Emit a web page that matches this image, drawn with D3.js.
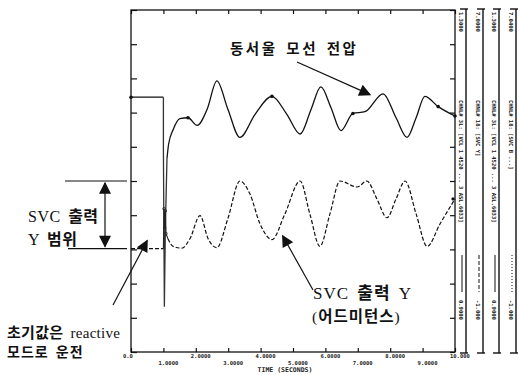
<!DOCTYPE html>
<html>
<head>
<meta charset="utf-8">
<script src="https://cdnjs.cloudflare.com/ajax/libs/d3/7.8.5/d3.min.js"></script>
<style>
  body { margin: 0; background: #fff; }
  svg { display: block; }
  .ann { font-family: "Liberation Serif", "Noto Sans CJK KR", serif; fill: #111; }
  .ann tspan.ko { font-family: "Noto Sans CJK KR", sans-serif; font-weight: 600; }
  .mono { font-family: "DejaVu Sans Mono", monospace; font-weight: bold; fill: #222; }
</style>
</head>
<body>
<div id="plot"></div>
<script>
// Define SVG area dimensions
var svgWidth = 519;
var svgHeight = 375;

var margin = { top: 10, right: 64, bottom: 23, left: 131 };
var chartWidth = svgWidth - margin.left - margin.right;
var chartHeight = svgHeight - margin.top - margin.bottom;

// ---- data ----
// pre-fault (0 - 1 s)
var preTime = [0, 1.0];
var preVolt = [1.198, 1.198];
var preSvc = [1.42, 1.42];

// fault spike at t = 1 s
var faultTime = [1.0, 1.0, 1.03, 1.06, 1.11];
var faultVolt = [1.198, 1.137, 0.953, 1.044, 1.126];
var svcFaultTime = [1.0, 1.02, 1.04, 1.06, 1.08, 1.14];
var svcFaultValue = [1.42, 2.35, 1.90, 2.30, 1.77, 1.65];

// bus voltage (동서울 모선 전압), p.u.
var voltTime = [1.11, 1.16, 1.30, 1.51, 1.76, 2.04, 2.35, 2.65, 2.99, 3.36, 3.83, 4.35, 4.81, 5.22, 5.56, 5.86, 6.17, 6.48, 6.85, 7.22, 7.78, 8.18, 8.52, 8.80, 9.07, 9.48, 10.0];
var voltValue = [1.126, 1.143, 1.160, 1.173, 1.174, 1.165, 1.184, 1.217, 1.184, 1.151, 1.178, 1.199, 1.178, 1.155, 1.184, 1.210, 1.186, 1.159, 1.179, 1.181, 1.202, 1.174, 1.151, 1.174, 1.199, 1.187, 1.176];
var voltMarkTime = [0, 1.76, 4.35, 6.85, 9.48, 10.0];
var voltMarkValue = [1.198, 1.174, 1.199, 1.179, 1.187, 1.176];

// SVC output admittance Y
var svcTime = [1.14, 1.30, 1.57, 1.82, 2.13, 2.38, 2.65, 2.99, 3.36, 3.67, 3.98, 4.35, 4.75, 5.22, 5.52, 5.83, 6.14, 6.45, 6.98, 7.28, 7.59, 7.90, 8.18, 8.46, 8.80, 9.14, 9.54, 10.0];
var svcValue = [1.65, 1.47, 1.43, 1.65, 2.19, 1.65, 1.44, 2.12, 3.0, 2.70, 2.0, 1.63, 2.23, 3.0, 2.23, 1.47, 2.23, 3.0, 2.86, 3.0, 2.58, 2.14, 2.58, 3.0, 2.23, 1.47, 2.0, 2.58];
var svcMax = 3.0;
var svcMin = 1.42;

// axis labels
var xTicks = [0, 1, 2, 3, 4, 5, 6, 7, 8, 9, 10];
var xTickLabels = ["0.0", "1.0000", "2.0000", "3.0000", "4.0000", "5.0000", "6.0000", "7.0000", "8.0000", "9.0000", "10.000"];
var yVoltTicks = [0.9, 0.94, 0.98, 1.02, 1.06, 1.10, 1.14, 1.18, 1.22, 1.26, 1.30];

// channel strips on the right
var stripTop = ["1.3000", "7.0000", "1.3000", "7.0400"];
var stripBottom = ["0.9000", "-1.000", "0.9000", "-1.000"];
var stripLegend = ["CHNL# 3L: [VCL 1 4520 ...  3 ASL.6033]", "CHNL# 18: [SVC Y]", "CHNL# 3L: [VCL 1 4520 ...  3 ASL.6033]", "CHNL# 18: [SVC B ...]"];
var stripDash = ["none", "4,2", "none", "1,2"];

var svg = d3.select("#plot")
  .append("svg")
  .attr("width", svgWidth)
  .attr("height", svgHeight);

var chartGroup = svg.append("g")
  .attr("transform", `translate(${margin.left}, ${margin.top})`);

// scales
var xScale = d3.scaleLinear().domain([0, 10]).range([0, chartWidth]);
var yVolt = d3.scaleLinear().domain([0.9, 1.3]).range([chartHeight, 0]);
var ySvc = d3.scaleLinear().domain([-1.0, 7.0]).range([chartHeight, 0]);

// frame
chartGroup.append("rect")
  .attr("width", chartWidth)
  .attr("height", chartHeight)
  .attr("fill", "none")
  .attr("stroke", "#111")
  .attr("stroke-width", 1.3);

// inward ticks on all four sides
function cleanAxis(g) {
  g.select(".domain").remove();
  g.selectAll("line").attr("stroke", "#111").attr("stroke-width", 1.2);
}
chartGroup.append("g")
  .call(d3.axisRight(yVolt).tickValues(yVoltTicks).tickSize(6).tickFormat(""))
  .call(cleanAxis);
chartGroup.append("g")
  .attr("transform", `translate(${chartWidth}, 0)`)
  .call(d3.axisLeft(yVolt).tickValues(yVoltTicks).tickSize(5).tickFormat(""))
  .call(cleanAxis);
chartGroup.append("g")
  .call(d3.axisBottom(xScale).tickValues(xTicks).tickSize(4).tickFormat(""))
  .call(cleanAxis);
chartGroup.append("g")
  .attr("transform", `translate(0, ${chartHeight})`)
  .call(d3.axisTop(xScale).tickValues(xTicks).tickSize(4).tickFormat(""))
  .call(cleanAxis);

// staggered x labels
chartGroup.selectAll(".xlbl")
  .data(xTicks)
  .enter()
  .append("text")
  .attr("class", "mono")
  .attr("x", (d, i) => xScale(d) - (i == 0 ? 8 : 5))
  .attr("y", (d, i) => chartHeight + (i % 2 == 0 ? 6 : 13))
  .style("font-size", "5.5px")
  .text((d, i) => xTickLabels[i]);

chartGroup.append("text")
  .attr("class", "mono")
  .attr("x", xScale(4.0) - 3)
  .attr("y", chartHeight + 20)
  .style("font-size", "6.5px")
  .text("TIME  (SECONDS)");

// line generators
var stepLine = d3.line().x(d => xScale(d[0])).y(d => d[1]);
var smoothLine = d3.line().x(d => xScale(d[0])).y(d => d[1]).curve(d3.curveMonotoneX);

// bus voltage (solid)
chartGroup.append("path")
  .attr("d", stepLine(preTime.map((t, i) => [t, yVolt(preVolt[i])])))
  .attr("fill", "none").attr("stroke", "#111").attr("stroke-width", 1.3);
chartGroup.append("path")
  .attr("d", stepLine(faultTime.map((t, i) => [t, yVolt(faultVolt[i])])))
  .attr("fill", "none").attr("stroke", "#333").attr("stroke-width", 1.3);
chartGroup.append("path")
  .attr("d", smoothLine(voltTime.map((t, i) => [t, yVolt(voltValue[i])])))
  .attr("fill", "none").attr("stroke", "#111").attr("stroke-width", 1.3);
chartGroup.selectAll(".vmark")
  .data(voltMarkTime)
  .enter()
  .append("circle")
  .attr("cx", d => xScale(d))
  .attr("cy", (d, i) => yVolt(voltMarkValue[i]))
  .attr("r", 1.8)
  .attr("fill", "#111");

// SVC output Y (dashed)
chartGroup.append("path")
  .attr("d", stepLine(preTime.map((t, i) => [t, ySvc(preSvc[i])])))
  .attr("fill", "none").attr("stroke", "#111").attr("stroke-width", 1.2)
  .attr("stroke-dasharray", "4,2");
chartGroup.append("path")
  .attr("d", stepLine(svcFaultTime.map((t, i) => [t, ySvc(svcFaultValue[i])])))
  .attr("fill", "none").attr("stroke", "#222").attr("stroke-width", 1.1);
chartGroup.selectAll(".smark")
  .data(svcFaultTime.slice(1, 5))
  .enter()
  .append("circle")
  .attr("cx", d => xScale(d))
  .attr("cy", (d, i) => ySvc(svcFaultValue[i + 1]))
  .attr("r", 1.3)
  .attr("fill", "none")
  .attr("stroke", "#222")
  .attr("stroke-width", 0.8);
chartGroup.append("path")
  .attr("d", smoothLine(svcTime.map((t, i) => [t, ySvc(svcValue[i])])))
  .attr("fill", "none").attr("stroke", "#111").attr("stroke-width", 1.2)
  .attr("stroke-dasharray", "4,2");
chartGroup.append("circle")
  .attr("cx", xScale(svcTime[svcTime.length - 1]) - 2)
  .attr("cy", ySvc(svcValue[svcValue.length - 1]))
  .attr("r", 1.6)
  .attr("fill", "#111");

// channel strips
var stripX = [466, 483, 499, 516];
stripX.forEach(function(sx, i) {
  var g = svg.append("g");
  g.append("line").attr("x1", sx).attr("x2", sx).attr("y1", 9).attr("y2", 353)
    .attr("stroke", "#111").attr("stroke-width", 1.4);
  g.append("line").attr("x1", sx - 6).attr("x2", sx + 2).attr("y1", 9).attr("y2", 9)
    .attr("stroke", "#111").attr("stroke-width", 1.4);
  g.append("line").attr("x1", sx - 6).attr("x2", sx + 2).attr("y1", 353).attr("y2", 353)
    .attr("stroke", "#111").attr("stroke-width", 1.4);
  [[stripTop[i], 12], [stripLegend[i], 100], [stripBottom[i], 300]].forEach(function(t) {
    g.append("text")
      .attr("class", "mono")
      .attr("transform", `translate(${sx - 7}, ${t[1]}) rotate(90)`)
      .style("font-size", "5.5px")
      .text(t[0]);
  });
  g.append("line").attr("x1", sx - 4).attr("x2", sx - 4).attr("y1", 255).attr("y2", 292)
    .attr("stroke", "#111").attr("stroke-width", 1)
    .attr("stroke-dasharray", stripDash[i]);
});

// arrow head marker
var defs = svg.append("defs");
defs.append("marker")
  .attr("id", "arr")
  .attr("viewBox", "0 0 10 10")
  .attr("refX", 9).attr("refY", 5)
  .attr("markerWidth", 14).attr("markerHeight", 12)
  .attr("markerUnits", "userSpaceOnUse")
  .attr("orient", "auto-start-reverse")
  .append("path")
  .attr("d", "M0,0 L10,5 L0,10 Z")
  .attr("fill", "#111");

function arrow(x1, y1, x2, y2, both) {
  svg.append("line")
    .attr("x1", x1).attr("y1", y1).attr("x2", x2).attr("y2", y2)
    .attr("stroke", "#111").attr("stroke-width", 1.2)
    .attr("marker-end", "url(#arr)")
    .attr("marker-start", both ? "url(#arr)" : null);
}

// annotation text: Latin runs in serif, Korean runs in a bolder CJK face
function label(x, y, size, spacing, parts) {
  var t = svg.append("text").attr("class", "ann")
    .attr("x", x).attr("y", y)
    .style("font-size", size + "px")
    .style("letter-spacing", spacing + "px")
    .style("word-spacing", "3px");
  parts.forEach(function(p) {
    t.append("tspan").attr("class", p[1] ? "ko" : null).text(p[0]);
  });
}

var X = d => margin.left + xScale(d);
var YV = d => margin.top + yVolt(d);
var YS = d => margin.top + ySvc(d);

// 동서울 모선 전압
label(230, 54, 14.5, 2.5, [["동서울 모선 전압", true]]);
arrow(297, 62, X(7.38), YV(1.201));

// SVC 출력 Y (어드미턴스)
label(313, 299, 17, 1, [["SVC ", false], ["출력", true], [" Y", false]]);
label(312, 322, 15.5, 1, [["(", false], ["어드미턴스", true], [")", false]]);
arrow(313, 290, X(4.68), YS(1.72));

// SVC 출력 Y 범위
svg.append("line").attr("x1", 65).attr("x2", margin.left - 4)
  .attr("y1", YS(svcMax)).attr("y2", YS(svcMax))
  .attr("stroke", "#111").attr("stroke-width", 1.2);
svg.append("line").attr("x1", 68).attr("x2", margin.left - 4)
  .attr("y1", YS(svcMin)).attr("y2", YS(svcMin))
  .attr("stroke", "#111").attr("stroke-width", 1.2);
arrow(105, YS(svcMax) + 2, 105, YS(svcMin) - 2, true);
label(28, 222, 16, 0.5, [["SVC ", false], ["출력", true]]);
label(28, 245, 16, 0.5, [["Y ", false], ["범위", true]]);

// 초기값은 reactive 모드로 운전
arrow(113, 305, X(0.5), YS(svcMin) - 8);
label(7, 338, 15, 0.3, [["초기값은", true], [" reactive", false]]);
label(7, 357, 14, 1, [["모드로 운전", true]]);
</script>
</body>
</html>
